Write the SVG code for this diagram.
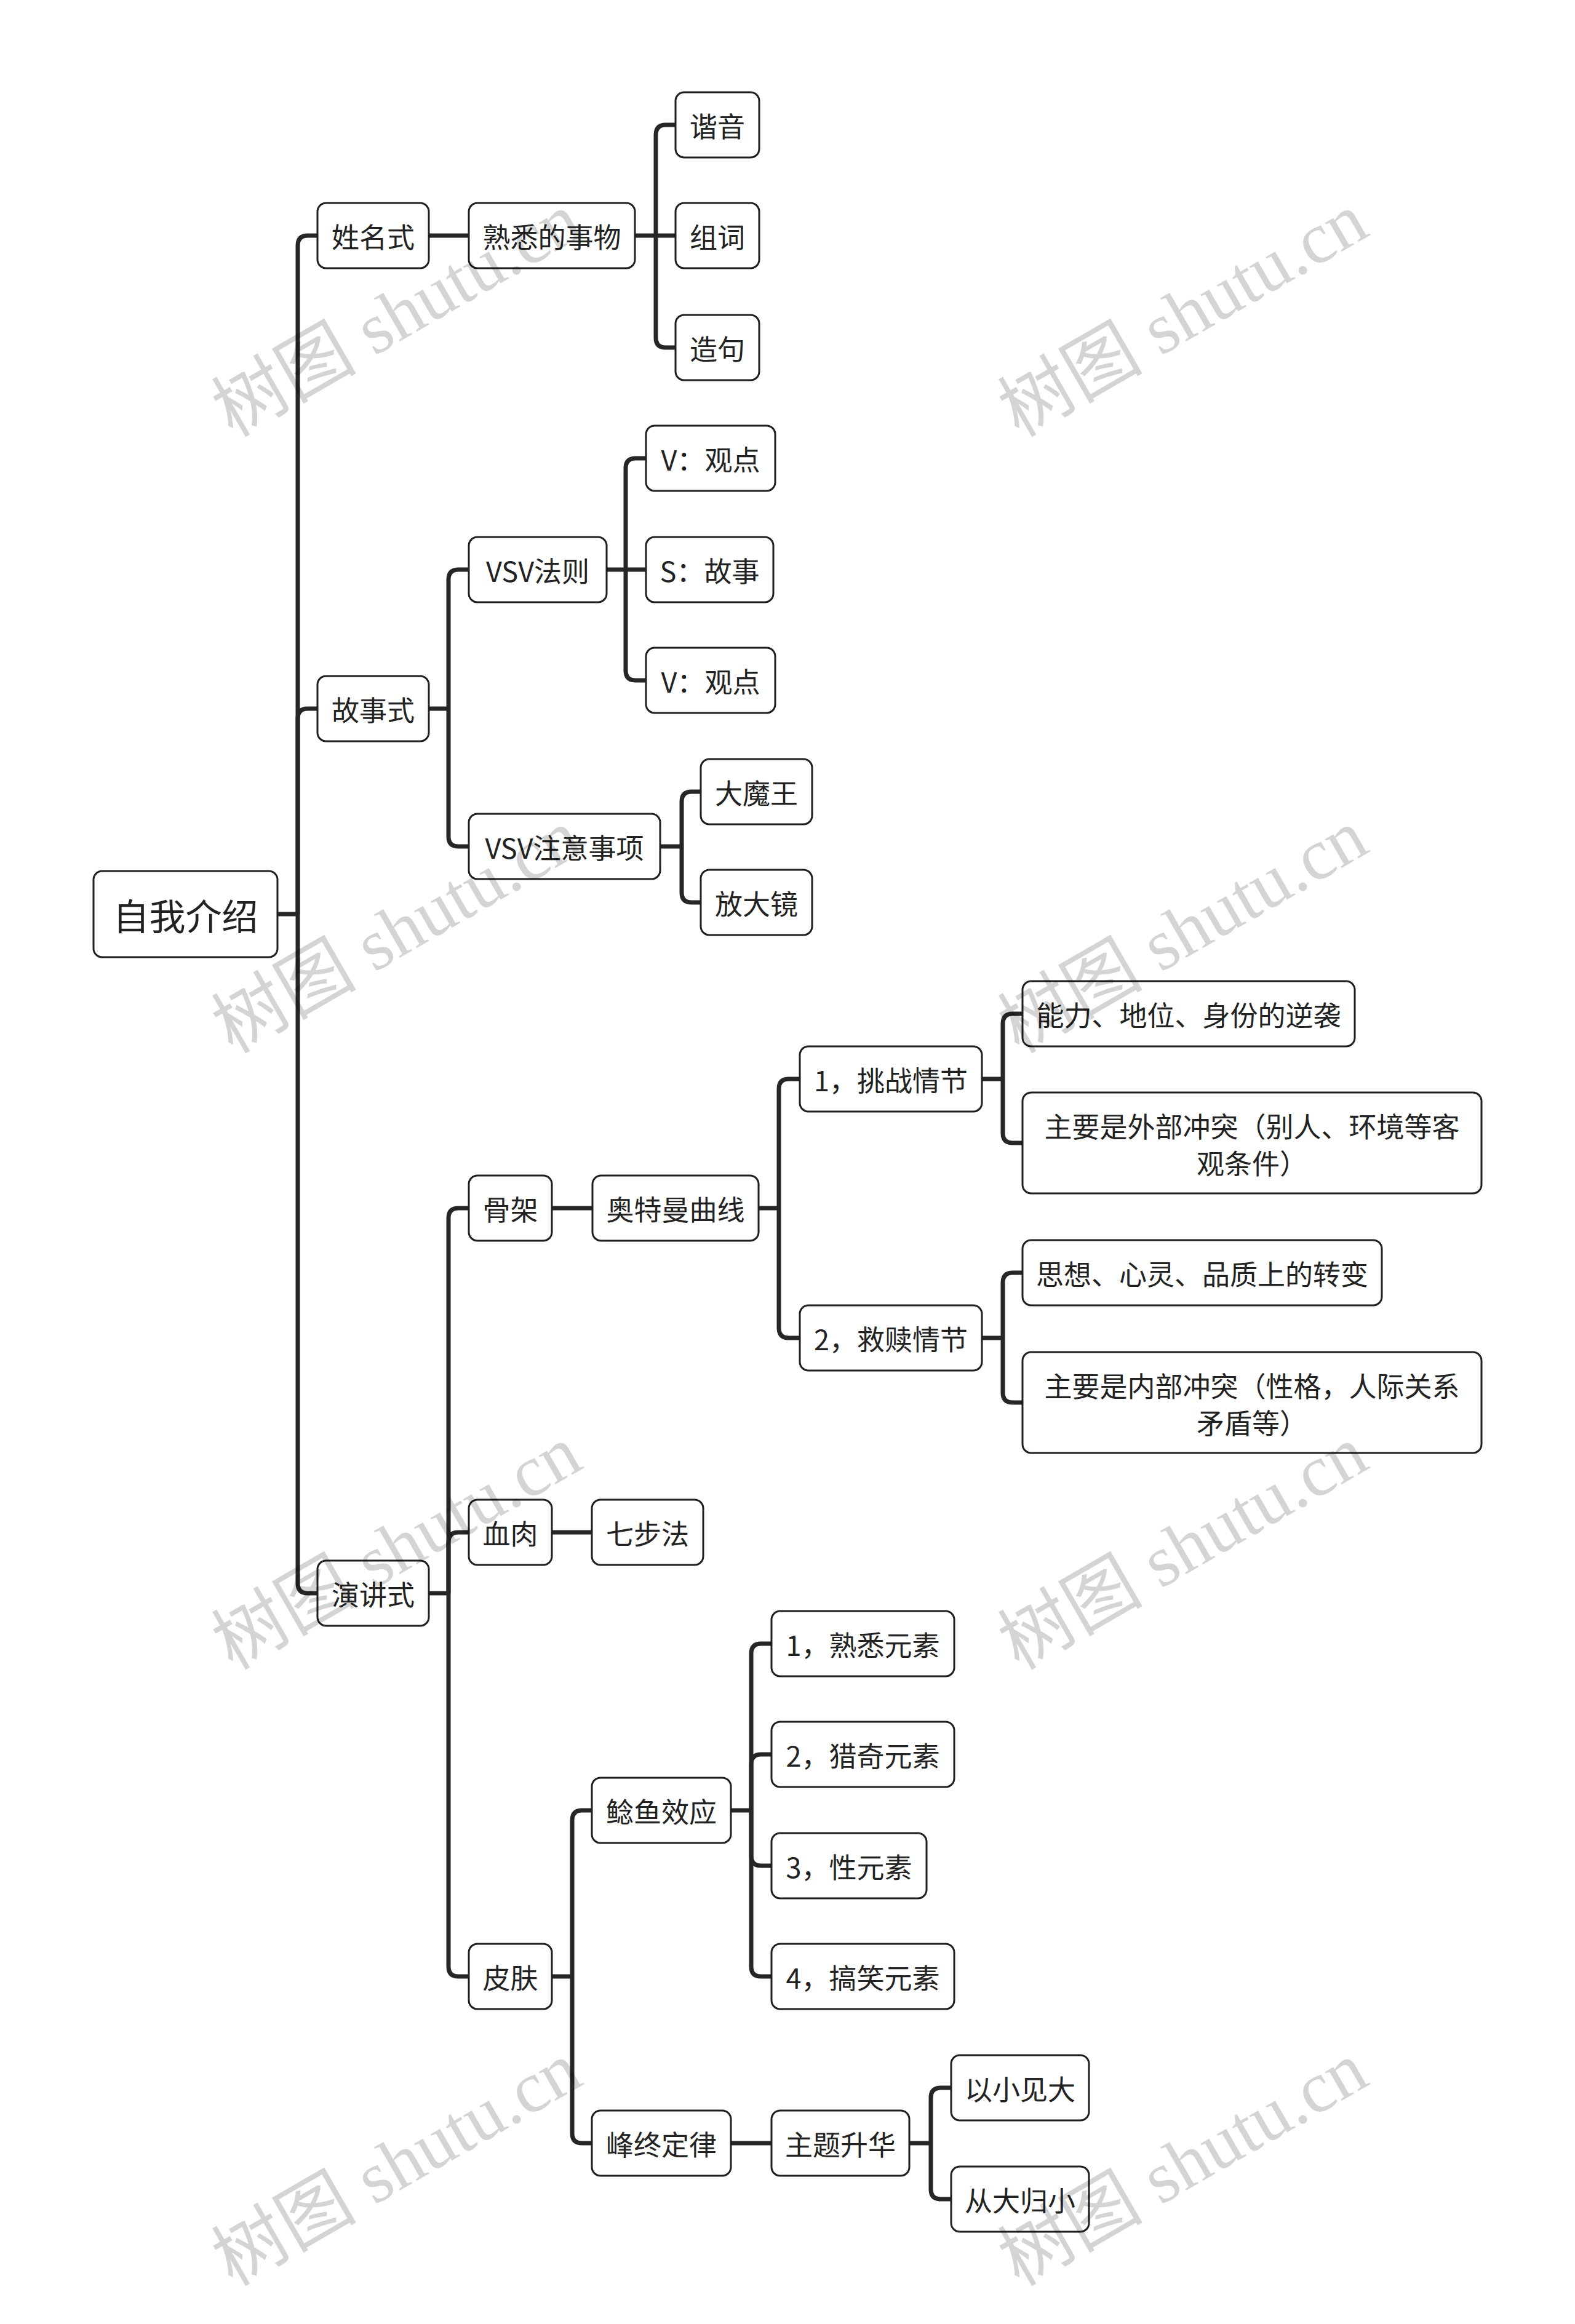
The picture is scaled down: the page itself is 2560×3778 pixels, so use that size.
<svg xmlns="http://www.w3.org/2000/svg" width="2560" height="3778" viewBox="0 0 2560 3778">
<style>
.bg{fill:#ffffff}
.node rect{fill:#ffffff;stroke:#1f1f1f;stroke-width:3}
.node text{font-family:"Noto Sans CJK SC","Noto Sans",sans-serif;font-size:45px;fill:#222222;text-anchor:middle;dominant-baseline:central}
#root text{font-size:59px}
#connectors path{fill:none;stroke:#262626;stroke-width:7;stroke-linecap:butt;stroke-linejoin:round}
.wm{font-family:"Liberation Serif","Noto Sans CJK SC",serif;font-size:118px;fill:#000000;fill-opacity:0.17}
</style>
<rect class="bg" x="0" y="0" width="2560" height="3778"/>
<g id="connectors">
<path d="M451 1486 H484"/>
<path d="M484 1486 V399 Q484 383 500 383 H516"/>
<path d="M484 1486 V1168 Q484 1152 500 1152 H516"/>
<path d="M484 1486 V2574 Q484 2590 500 2590 H516"/>
<path d="M697 383 H762"/>
<path d="M1032 383 H1066"/>
<path d="M1066 383 V219 Q1066 203 1082 203 H1098"/>
<path d="M1066 383 H1098"/>
<path d="M1066 383 V549 Q1066 565 1082 565 H1098"/>
<path d="M697 1152 H729"/>
<path d="M729 1152 V942 Q729 926 745 926 H762"/>
<path d="M729 1152 V1360 Q729 1376 745 1376 H762"/>
<path d="M986 926 H1017"/>
<path d="M1017 926 V761 Q1017 745 1033 745 H1050"/>
<path d="M1017 926 H1050"/>
<path d="M1017 926 V1090 Q1017 1106 1033 1106 H1050"/>
<path d="M1073 1376 H1108"/>
<path d="M1108 1376 V1303 Q1108 1287 1124 1287 H1139"/>
<path d="M1108 1376 V1451 Q1108 1467 1124 1467 H1139"/>
<path d="M697 2590 H729"/>
<path d="M729 2590 V1980 Q729 1964 745 1964 H762"/>
<path d="M729 2590 V2507 Q729 2491 745 2491 H762"/>
<path d="M729 2590 V3197 Q729 3213 745 3213 H762"/>
<path d="M897 1964 H963"/>
<path d="M1233 1964 H1266"/>
<path d="M1266 1964 V1770 Q1266 1754 1282 1754 H1300"/>
<path d="M1266 1964 V2159 Q1266 2175 1282 2175 H1300"/>
<path d="M1596 1754 H1630"/>
<path d="M1630 1754 V1664 Q1630 1648 1646 1648 H1662"/>
<path d="M1630 1754 V1842 Q1630 1858 1646 1858 H1662"/>
<path d="M1596 2175 H1630"/>
<path d="M1630 2175 V2085 Q1630 2069 1646 2069 H1662"/>
<path d="M1630 2175 V2264 Q1630 2280 1646 2280 H1662"/>
<path d="M897 2491 H962"/>
<path d="M897 3213 H930"/>
<path d="M930 3213 V2959 Q930 2943 946 2943 H962"/>
<path d="M930 3213 V3468 Q930 3484 946 3484 H962"/>
<path d="M1188 2943 H1221"/>
<path d="M1221 2943 V2688 Q1221 2672 1237 2672 H1254"/>
<path d="M1221 2943 V2868 Q1221 2852 1237 2852 H1254"/>
<path d="M1221 2943 V3017 Q1221 3033 1237 3033 H1254"/>
<path d="M1221 2943 V3197 Q1221 3213 1237 3213 H1254"/>
<path d="M1188 3484 H1254"/>
<path d="M1478 3484 H1513"/>
<path d="M1513 3484 V3410 Q1513 3394 1529 3394 H1546"/>
<path d="M1513 3484 V3559 Q1513 3575 1529 3575 H1546"/>
</g>
<g id="root" class="node"><rect x="152" y="1416" width="299" height="140" rx="14"/><text x="301.5" y="1486">自我介绍</text></g>
<g id="n1" class="node"><rect x="516" y="330" width="181" height="106" rx="14"/><text x="606.5" y="383">姓名式</text></g>
<g id="n11" class="node"><rect x="762" y="330" width="270" height="106" rx="14"/><text x="897" y="383">熟悉的事物</text></g>
<g id="n111" class="node"><rect x="1098" y="150" width="136" height="106" rx="14"/><text x="1166" y="203">谐音</text></g>
<g id="n112" class="node"><rect x="1098" y="330" width="136" height="106" rx="14"/><text x="1166" y="383">组词</text></g>
<g id="n113" class="node"><rect x="1098" y="512" width="136" height="106" rx="14"/><text x="1166" y="565">造句</text></g>
<g id="n2" class="node"><rect x="516" y="1099" width="181" height="106" rx="14"/><text x="606.5" y="1152">故事式</text></g>
<g id="n21" class="node"><rect x="762" y="873" width="224" height="106" rx="14"/><text x="874" y="926">VSV法则</text></g>
<g id="n211" class="node"><rect x="1050" y="692" width="210" height="106" rx="14"/><text x="1155" y="745">V：观点</text></g>
<g id="n212" class="node"><rect x="1050" y="873" width="207" height="106" rx="14"/><text x="1153.5" y="926">S：故事</text></g>
<g id="n213" class="node"><rect x="1050" y="1053" width="210" height="106" rx="14"/><text x="1155" y="1106">V：观点</text></g>
<g id="n22" class="node"><rect x="762" y="1323" width="311" height="106" rx="14"/><text x="917.5" y="1376">VSV注意事项</text></g>
<g id="n221" class="node"><rect x="1139" y="1234" width="181" height="106" rx="14"/><text x="1229.5" y="1287">大魔王</text></g>
<g id="n222" class="node"><rect x="1139" y="1414" width="181" height="106" rx="14"/><text x="1229.5" y="1467">放大镜</text></g>
<g id="n3" class="node"><rect x="516" y="2537" width="181" height="106" rx="14"/><text x="606.5" y="2590">演讲式</text></g>
<g id="n31" class="node"><rect x="762" y="1911" width="135" height="106" rx="14"/><text x="829.5" y="1964">骨架</text></g>
<g id="n311" class="node"><rect x="963" y="1911" width="270" height="106" rx="14"/><text x="1098" y="1964">奥特曼曲线</text></g>
<g id="n3111" class="node"><rect x="1300" y="1701" width="296" height="106" rx="14"/><text x="1448" y="1754">1，挑战情节</text></g>
<g id="n31111" class="node"><rect x="1662" y="1595" width="540" height="106" rx="14"/><text x="1932" y="1648">能力、地位、身份的逆袭</text></g>
<g id="n31112" class="node"><rect x="1662" y="1776" width="746" height="164" rx="14"/><text x="2035" y="1829">主要是外部冲突（别人、环境等客</text><text x="2035" y="1889">观条件）</text></g>
<g id="n3112" class="node"><rect x="1300" y="2122" width="296" height="106" rx="14"/><text x="1448" y="2175">2，救赎情节</text></g>
<g id="n31121" class="node"><rect x="1662" y="2016" width="584" height="106" rx="14"/><text x="1954" y="2069">思想、心灵、品质上的转变</text></g>
<g id="n31122" class="node"><rect x="1662" y="2198" width="746" height="164" rx="14"/><text x="2035" y="2251">主要是内部冲突（性格，人际关系</text><text x="2035" y="2311">矛盾等）</text></g>
<g id="n32" class="node"><rect x="762" y="2438" width="135" height="106" rx="14"/><text x="829.5" y="2491">血肉</text></g>
<g id="n321" class="node"><rect x="962" y="2438" width="181" height="106" rx="14"/><text x="1052.5" y="2491">七步法</text></g>
<g id="n33" class="node"><rect x="762" y="3160" width="135" height="106" rx="14"/><text x="829.5" y="3213">皮肤</text></g>
<g id="n331" class="node"><rect x="962" y="2890" width="226" height="106" rx="14"/><text x="1075" y="2943">鲶鱼效应</text></g>
<g id="n3311" class="node"><rect x="1254" y="2619" width="297" height="106" rx="14"/><text x="1402.5" y="2672">1，熟悉元素</text></g>
<g id="n3312" class="node"><rect x="1254" y="2799" width="297" height="106" rx="14"/><text x="1402.5" y="2852">2，猎奇元素</text></g>
<g id="n3313" class="node"><rect x="1254" y="2980" width="252" height="106" rx="14"/><text x="1380" y="3033">3，性元素</text></g>
<g id="n3314" class="node"><rect x="1254" y="3160" width="297" height="106" rx="14"/><text x="1402.5" y="3213">4，搞笑元素</text></g>
<g id="n332" class="node"><rect x="962" y="3431" width="226" height="106" rx="14"/><text x="1075" y="3484">峰终定律</text></g>
<g id="n3321" class="node"><rect x="1254" y="3431" width="224" height="106" rx="14"/><text x="1366" y="3484">主题升华</text></g>
<g id="n33211" class="node"><rect x="1546" y="3341" width="224" height="106" rx="14"/><text x="1658" y="3394">以小见大</text></g>
<g id="n33212" class="node"><rect x="1546" y="3522" width="224" height="106" rx="14"/><text x="1658" y="3575">从大归小</text></g>
<g id="watermarks">
<text class="wm" transform="translate(378 712) rotate(-30)">树图 shutu.cn</text>
<text class="wm" transform="translate(1656 712) rotate(-30)">树图 shutu.cn</text>
<text class="wm" transform="translate(378 1714) rotate(-30)">树图 shutu.cn</text>
<text class="wm" transform="translate(1656 1714) rotate(-30)">树图 shutu.cn</text>
<text class="wm" transform="translate(378 2716) rotate(-30)">树图 shutu.cn</text>
<text class="wm" transform="translate(1656 2716) rotate(-30)">树图 shutu.cn</text>
<text class="wm" transform="translate(378 3718) rotate(-30)">树图 shutu.cn</text>
<text class="wm" transform="translate(1656 3718) rotate(-30)">树图 shutu.cn</text>
</g>
</svg>
